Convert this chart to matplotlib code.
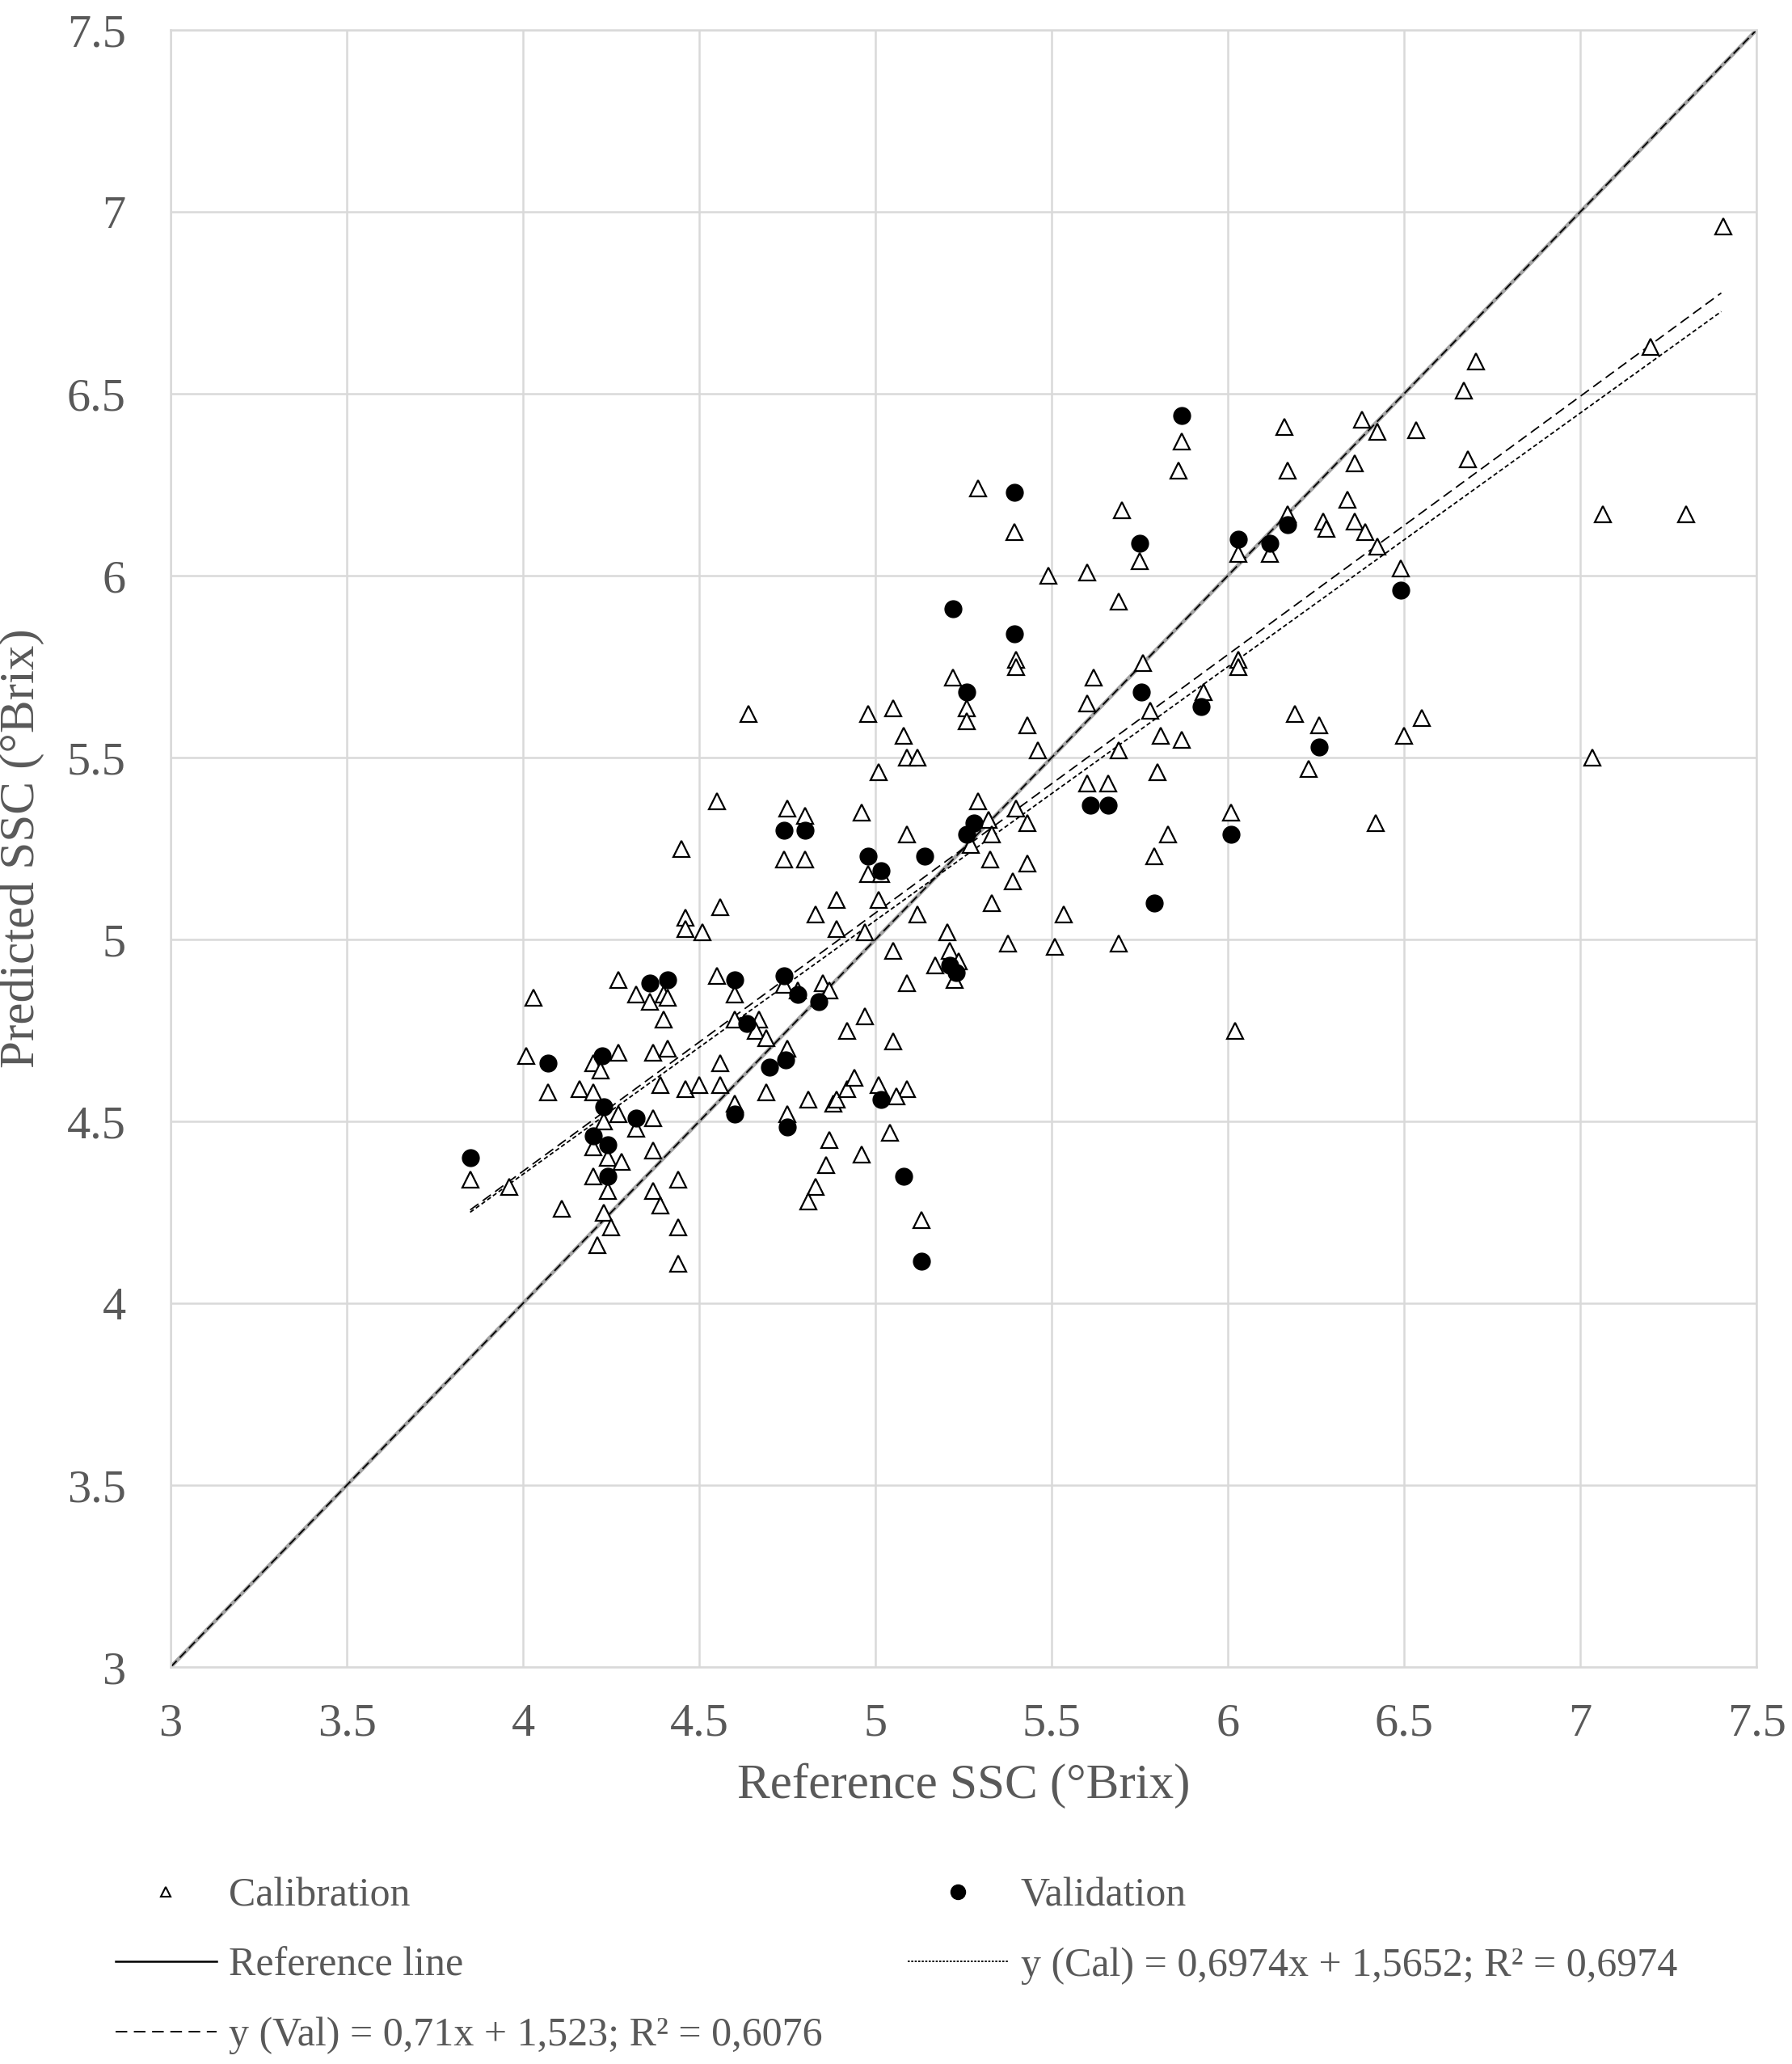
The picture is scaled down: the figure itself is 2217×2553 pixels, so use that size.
import matplotlib.pyplot as plt
from matplotlib.lines import Line2D
import numpy as np

# calibration set (reference SSC, predicted SSC)
cal_x = [4.46, 4.46, 4.51, 4.83, 4.89, 4.97, 4.27, 4.32, 4.36, 4.40, 4.41, 4.40, 4.03, 4.55, 4.60,
         4.74, 4.78, 4.85, 4.87, 4.60, 4.67, 4.66, 4.69, 4.92, 4.97, 4.75, 4.01, 4.27, 4.20, 4.22,
         4.37, 4.41, 4.56, 4.07, 4.16, 4.20, 4.39, 4.46, 4.50, 4.56, 4.69, 4.60, 4.81, 4.75, 4.88,
         4.89, 4.92, 4.94, 4.27, 4.23, 4.37, 4.32, 4.20, 4.24, 4.28, 4.37, 4.87, 4.86, 4.96, 3.85,
         3.96, 4.20, 4.24, 4.37, 4.44, 4.39, 4.83, 4.81, 4.11, 4.23, 4.25, 4.44, 4.21, 4.44,
         4.64, 4.55, 4.75, 4.80, 4.74, 4.80, 4.45, 4.96, 4.56, 4.89,
         5.49, 5.60, 5.75, 5.69, 5.40, 5.40, 5.22, 5.76, 5.62, 5.60, 5.26, 5.26, 4.98, 5.05, 5.43,
         5.08, 5.78, 5.93, 6.03, 6.03, 5.09, 5.12, 5.46, 5.69, 5.81, 5.87, 5.01, 5.80, 5.60, 5.66,
         5.29, 5.40, 5.32, 5.43, 5.33, 5.09, 6.01, 5.83, 5.79, 5.27, 4.98, 5.015, 5.325, 5.43, 5.39,
         5.01, 5.33, 5.12, 5.535,
         5.205, 5.375, 5.51, 5.69, 5.05, 5.21, 5.235, 5.17, 5.225, 5.09, 5.05, 5.01, 5.09, 5.06,
         6.02, 5.04, 5.13,
         6.49, 6.19, 6.26, 6.23, 6.55, 6.50, 6.42, 7.035,
         7.405, 7.20, 6.705, 6.67, 6.38, 6.425, 6.535, 6.16, 6.17, 6.36, 6.68, 6.34, 6.27, 6.28,
         6.36, 6.39, 6.425, 6.17, 7.065, 7.30, 6.12,
         5.87, 5.86, 5.29, 5.395, 5.70, 6.03]
cal_y = [5.06, 5.03, 5.02, 5.07, 5.03, 5.02, 4.89, 4.85, 4.83, 4.85, 4.84, 4.78, 4.84, 4.90, 4.85,
         4.875, 4.86, 4.88, 4.86, 4.78, 4.78, 4.75, 4.73, 4.75, 4.79, 4.70, 4.68, 4.69, 4.66, 4.64,
         4.69, 4.70, 4.66, 4.58, 4.59, 4.58, 4.60, 4.59, 4.60, 4.60, 4.58, 4.55, 4.56, 4.52, 4.55,
         4.56, 4.59, 4.62, 4.52, 4.50, 4.51, 4.48, 4.43, 4.40, 4.39, 4.42, 4.45, 4.38, 4.41, 4.34,
         4.32, 4.35, 4.31, 4.31, 4.34, 4.27, 4.32, 4.28, 4.26, 4.25, 4.21, 4.21, 4.16, 4.11,
         5.62, 5.38, 5.36, 5.34, 5.22, 5.22, 5.25, 5.35, 5.09, 5.11,
         6.00, 6.01, 6.04, 5.93, 5.77, 5.75, 5.72, 5.76, 5.72, 5.65, 5.635, 5.60, 5.62, 5.635, 5.59,
         5.56, 5.63, 5.68, 5.77, 5.75, 5.50, 5.50, 5.52, 5.52, 5.56, 5.55, 5.46, 5.46, 5.43, 5.43,
         5.38, 5.36, 5.33, 5.32, 5.29, 5.29, 5.35, 5.29, 5.23, 5.26, 5.18, 5.18, 5.22, 5.21, 5.16,
         5.11, 5.10, 5.07, 5.07,
         5.02, 4.99, 4.98, 4.99, 4.97, 4.97, 4.94, 4.93, 4.89, 4.88, 4.72, 4.60, 4.59, 4.57,
         4.75, 4.47, 4.23,
         6.02, 5.62, 5.59, 5.47, 5.61, 5.56, 5.32, 5.50,
         6.96, 6.63, 6.59, 6.51, 6.43, 6.395, 6.40, 6.41, 6.29, 6.31, 6.32, 6.21, 6.15, 6.13,
         6.15, 6.12, 6.08, 6.17, 6.17, 6.17, 6.06,
         6.37, 6.29, 6.24, 6.12, 6.18, 6.06]

# validation set
val_x = [4.36, 4.41, 4.60, 4.74, 4.78, 4.84, 4.635, 4.225, 4.07, 4.23, 4.32, 4.70, 4.745, 4.60,
         4.75, 4.20, 4.24, 4.24, 3.85,
         4.74, 4.80,
         5.22, 5.395, 5.26, 5.755, 5.925, 5.61, 5.66, 6.01, 5.79, 5.28, 5.26, 4.98, 5.015, 5.14,
         5.21, 5.23, 5.015, 5.08, 5.13,
         6.49, 6.26, 6.17, 6.12,
         5.87, 5.395, 5.75, 6.03]
val_y = [4.88, 4.89, 4.89, 4.90, 4.85, 4.83, 4.77, 4.68, 4.66, 4.54, 4.51, 4.65, 4.67, 4.52,
         4.485, 4.46, 4.435, 4.35, 4.40,
         5.30, 5.30,
         5.91, 5.84, 5.68, 5.68, 5.64, 5.37, 5.37, 5.29, 5.10, 5.32, 5.29, 5.23, 5.19, 5.23,
         4.93, 4.91, 4.56, 4.35, 4.115,
         5.96, 5.53, 6.14, 6.09,
         6.44, 6.23, 6.09, 6.10]

# trendlines and 1:1 line
cal_slope, cal_icpt = 0.6974, 1.5652
val_slope, val_icpt = 0.71, 1.523
fit_range = [3.85, 7.4]
ref_range = [3, 7.5]

ticks = [3, 3.5, 4, 4.5, 5, 5.5, 6, 6.5, 7, 7.5]
tick_labels = ['3', '3.5', '4', '4.5', '5', '5.5', '6', '6.5', '7', '7.5']

plt.rcParams['font.family'] = ['Liberation Serif', 'DejaVu Serif']
txt = '#595959'
grid_c = '#d9d9d9'

fig = plt.figure(figsize=(22.17, 25.53), dpi=100)
ax = fig.add_axes([0.0952, 0.1923, 0.8850, 0.7932])

fx = np.array(fit_range)
ax.plot(ref_range, ref_range, color='#a6a6a6', lw=3.4, zorder=2)
ax.plot(ref_range, ref_range, color='black', lw=1.3, ls=(0, (6, 3)), zorder=2)
ax.plot(fx, cal_slope * fx + cal_icpt, color='black', lw=1.3, ls=(0, (3, 1.8)), zorder=2)
ax.plot(fx, val_slope * fx + val_icpt, color='black', lw=1.3, ls=(0, (7, 3.6)), zorder=2)

ax.plot(cal_x, cal_y, ls='none', marker='^', ms=14, mfc='white', mec='black', mew=1.6, zorder=3)
ax.plot(val_x, val_y, ls='none', marker='o', ms=15, mfc='black', mec='black', zorder=4)

ax.set_xlim(3, 7.5)
ax.set_ylim(3, 7.5)
ax.set_xticks(ticks)
ax.set_xticklabels(tick_labels)
ax.set_yticks(ticks)
ax.set_yticklabels(tick_labels)
ax.tick_params(length=0, labelsize=42, labelcolor=txt)
ax.tick_params(axis='x', pad=32)
ax.tick_params(axis='y', pad=40)
ax.grid(True, color=grid_c, lw=1.8, zorder=0)
ax.set_axisbelow(True)
for s in ax.spines.values():
    s.set_color(grid_c)
    s.set_linewidth(1.8)

ax.set_xlabel('Reference SSC (°Brix)', fontsize=44, color=txt, labelpad=16)
ax.set_ylabel('Predicted SSC (°Brix)', fontsize=44, color=txt, labelpad=20)

h_cal = Line2D([], [], ls='none', marker='^', ms=9, mfc='white', mec='black', mew=1.5)
h_val = Line2D([], [], ls='none', marker='o', ms=13, mfc='black', mec='black')
h_ref = Line2D([], [], color='black', lw=1.8)
h_fc = Line2D([], [], color='black', lw=1.3, ls=(0, (1.4, 1.0)))
h_fv = Line2D([], [], color='black', lw=1.3, ls=(0, (8, 4.5)))
handles = [h_cal, h_ref, h_fv, h_val, h_fc]
labels = ['Calibration', 'Reference line', 'y (Val) = 0,71x + 1,523; R² = 0,6076',
          'Validation', 'y (Cal) = 0,6974x + 1,5652; R² = 0,6974']
leg = fig.legend(handles, labels, ncol=2, loc='upper left', bbox_to_anchor=(0.0645, 0.0905),
                 frameon=False, fontsize=36, handlelength=2.5, handletextpad=0.3,
                 labelspacing=0.8, columnspacing=2.1, borderpad=0, borderaxespad=0)
for t in leg.get_texts():
    t.set_color(txt)

fig.savefig('out.png', dpi=100)
